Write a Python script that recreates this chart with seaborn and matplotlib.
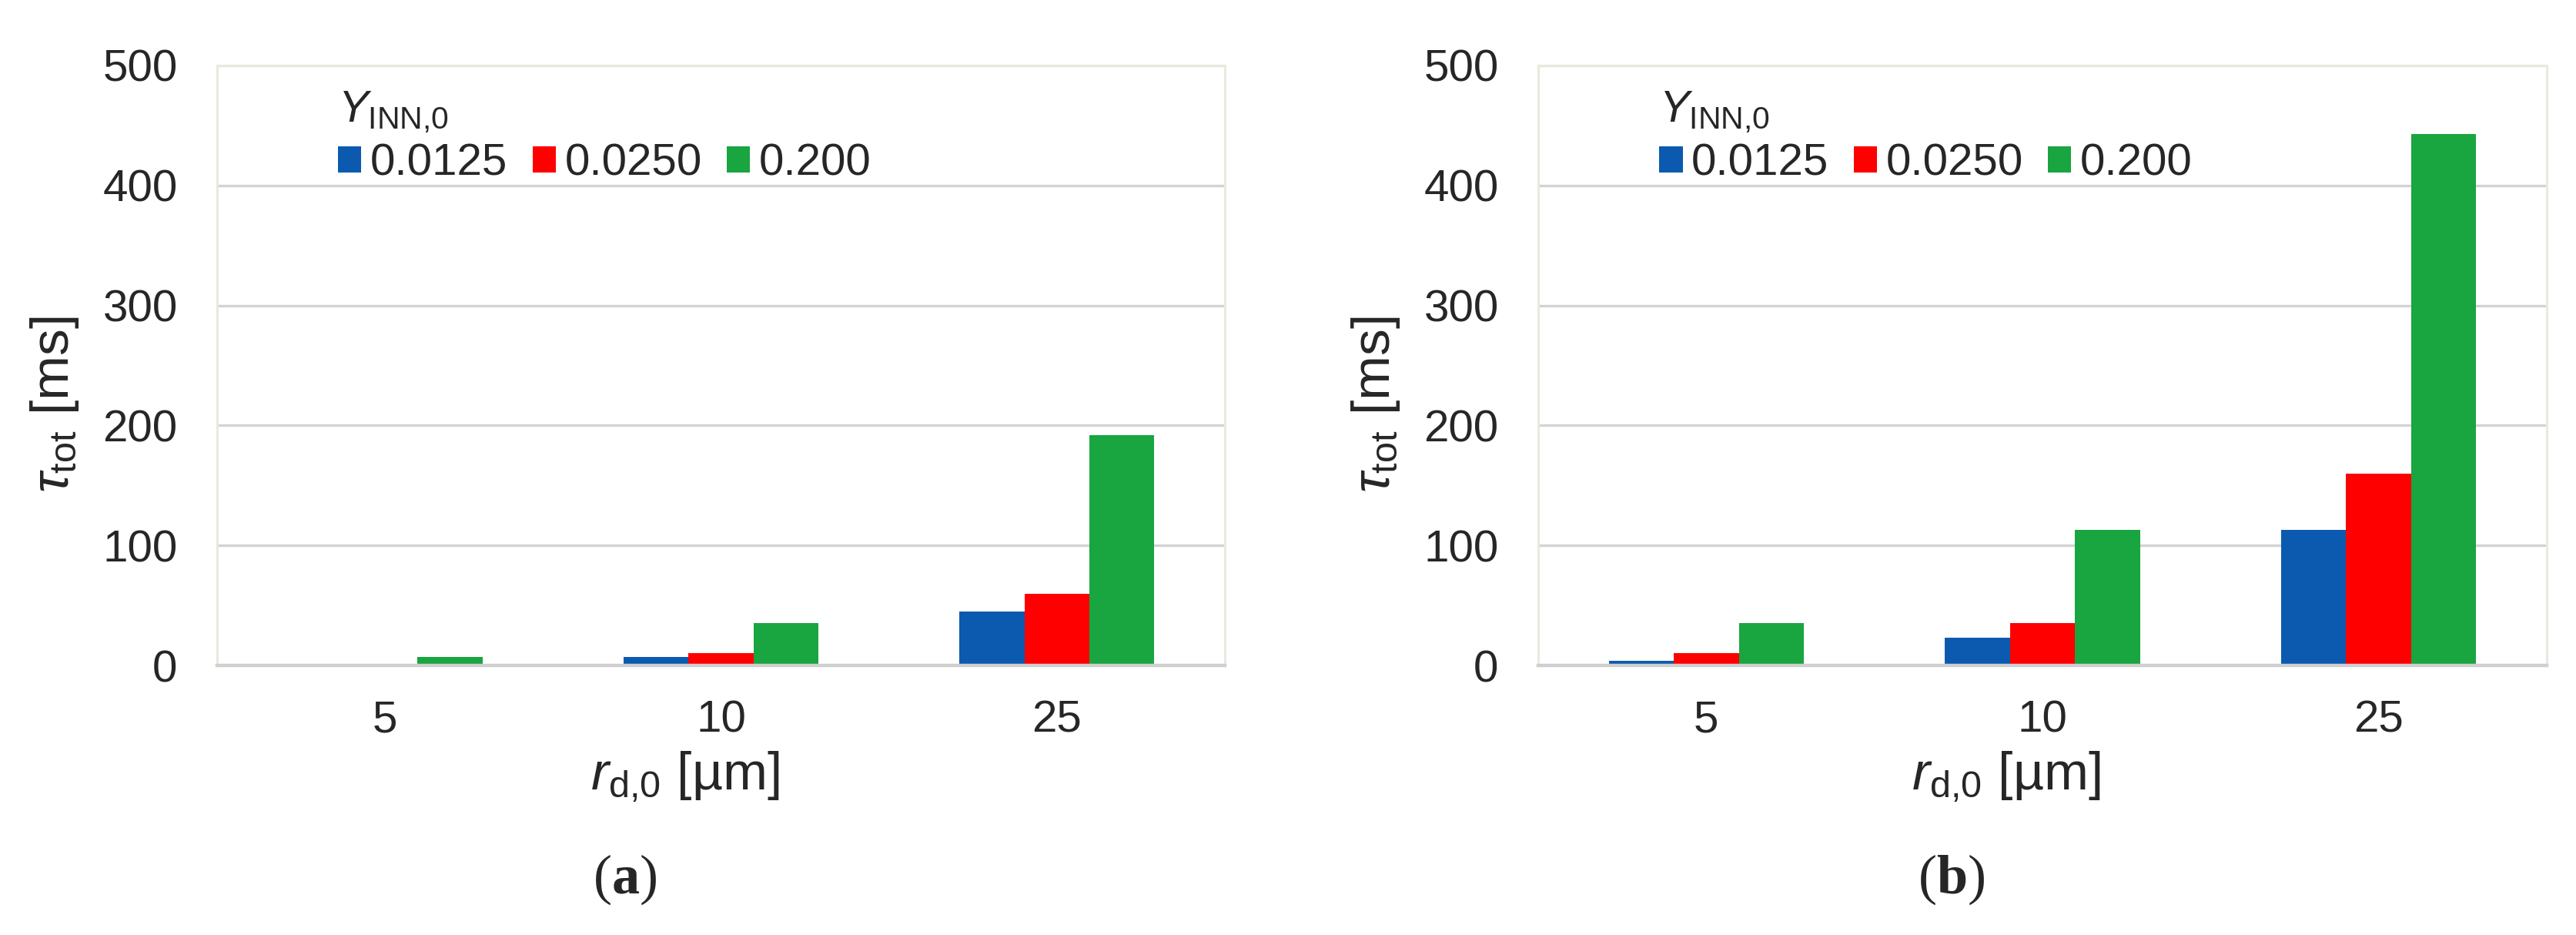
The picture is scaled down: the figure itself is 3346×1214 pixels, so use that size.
import matplotlib
matplotlib.use("Agg")
import matplotlib.pyplot as plt
import seaborn as sns
import pandas as pd

# data
radii = ["5", "10", "25"]
y_inn = ["0.0125", "0.0250", "0.200"]
tau_a = {"0.0125": [1.3, 7.2, 45.0],
         "0.0250": [1.3, 10.5, 60.0],
         "0.200": [7.2, 35.5, 192.0]}
tau_b = {"0.0125": [4.0, 23.0, 113.0],
         "0.0250": [10.5, 35.0, 160.0],
         "0.200": [35.5, 113.0, 443.0]}
yticks = [0, 100, 200, 300, 400, 500]
colors = ["#0b5aaf", "#fe0000", "#19a53f"]

sns.set_style("white")
plt.rcParams["font.family"] = ["Liberation Sans", "DejaVu Sans"]
plt.rcParams["mathtext.fontset"] = "custom"
plt.rcParams["mathtext.rm"] = "Liberation Sans"
plt.rcParams["mathtext.it"] = "Liberation Sans:italic"
plt.rcParams["mathtext.bf"] = "Liberation Sans:bold"
plt.rcParams["mathtext.sf"] = "Liberation Serif:bold"


def long_table(tau):
    rows = []
    for y in y_inn:
        for r, v in zip(radii, tau[y]):
            rows.append({"r": r, "Y": y, "tau": v})
    return pd.DataFrame(rows)


W, H = 3346, 1214
fig = plt.figure(figsize=(W / 100, H / 100), dpi=100)
ax_a = fig.add_axes([282 / W, 1 - 864 / H, 1309 / W, 779 / H])
ax_b = fig.add_axes([1998 / W, 1 - 864 / H, 1310 / W, 779 / H])

for ax, tau, tag, tagx in [(ax_a, tau_a, "a", 812), (ax_b, tau_b, "b", 2535)]:
    sns.barplot(data=long_table(tau), x="r", y="tau", hue="Y",
                order=radii, hue_order=y_inn, palette=colors, saturation=1,
                width=0.58, gap=0, linewidth=0, errorbar=None, ax=ax)

    ax.set_ylim(0, 500)
    ax.set_xlim(-0.5, 2.5)
    ax.set_yticks(yticks)
    ax.set_axisbelow(True)
    ax.yaxis.grid(True, color="#d3d3d3", linewidth=2.4)
    ax.xaxis.grid(False)
    for side in ["left", "top", "right"]:
        ax.spines[side].set_color("#ebe9dc")
        ax.spines[side].set_linewidth(2.2)
    ax.spines["bottom"].set_color("#cfcfcf")
    ax.spines["bottom"].set_linewidth(3.2)

    ax.tick_params(axis="both", length=0, labelsize=42)
    ax.tick_params(axis="y", pad=37)
    ax.tick_params(axis="x", pad=32)

    ax.set_xlabel(r"$r_{\rm d{,}0}$ [µm]", fontsize=50)
    ax.xaxis.set_label_coords(0.464, -0.14)
    ax.set_ylabel(r"$\tau_{\rm tot}$ [ms]", fontsize=50, va="center")
    ax.yaxis.set_label_coords(-0.161, 0.435)

    old = ax.get_legend()
    handles = old.legend_handles
    labels = [t.get_text() for t in old.get_texts()]
    ax.legend(handles, labels, title=r"$Y_{\rm INN{,}0}$", ncol=3,
              loc="upper left", bbox_to_anchor=(0.12, 0.96),
              frameon=False, fontsize=42, title_fontsize=42,
              alignment="left", handlelength=0.52, handleheight=0.52,
              handletextpad=0.2, columnspacing=0.55, borderpad=0,
              borderaxespad=0, labelspacing=0.2)

    fig.text(tagx / W, 1 - 1142 / H, r"($\mathsf{" + tag + "}$)",
             ha="center", va="center", fontsize=52,
             family=["Liberation Serif", "DejaVu Serif"])

fig.savefig("out.png", dpi=100, facecolor="white")
